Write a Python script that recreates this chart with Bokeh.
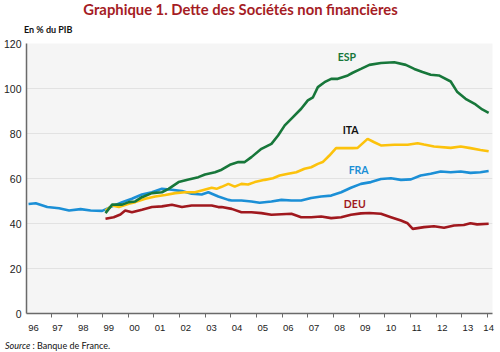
from bokeh.plotting import figure
from bokeh.models import Range1d, FixedTicker, Label, Div
from bokeh.layouts import column
from bokeh.embed import file_html
from bokeh.resources import INLINE

# ---- data ----
fra_t = [1996.11, 1996.39, 1996.84, 1997.30, 1997.69, 1998.14, 1998.53, 1998.98, 1999.37, 1999.76,
         2000.14, 2000.53, 2000.92, 2001.31, 2001.70, 2002.09, 2002.47, 2002.86, 2003.12, 2003.51,
         2003.90, 2004.03, 2004.41, 2004.80, 2005.12, 2005.58, 2005.97, 2006.36, 2006.74, 2007.13,
         2007.52, 2007.91, 2008.30, 2008.68, 2009.07, 2009.46, 2009.85, 2010.24, 2010.63, 2011.02,
         2011.40, 2011.79, 2012.18, 2012.57, 2012.96, 2013.34, 2013.73, 2014.05]
fra_v = [48.7, 49.0, 47.3, 46.8, 45.8, 46.4, 45.8, 45.6, 47.6, 49.5,
         51.0, 52.9, 53.9, 55.4, 55.0, 54.4, 53.2, 52.9, 53.9, 52.0,
         50.5, 50.2, 50.2, 49.8, 49.2, 49.8, 50.5, 50.2, 50.2, 51.3,
         52.0, 52.4, 53.9, 55.9, 57.6, 58.4, 59.8, 60.1, 59.4, 59.6,
         61.3, 62.1, 63.1, 62.8, 63.1, 62.5, 62.8, 63.3]

esp_t = [1999.11, 1999.37, 1999.76, 2000.02, 2000.27, 2000.53, 2000.92, 2001.31, 2001.57, 2001.96,
         2002.35, 2002.73, 2002.99, 2003.38, 2003.64, 2003.96, 2004.29, 2004.54, 2004.80, 2005.19,
         2005.58, 2005.84, 2006.10, 2006.42, 2006.74, 2007.00, 2007.20, 2007.39, 2007.65, 2007.91,
         2008.17, 2008.56, 2008.75, 2009.07, 2009.40, 2009.85, 2010.37, 2010.82, 2011.15, 2011.47,
         2011.79, 2012.11, 2012.57, 2012.83, 2013.15, 2013.54, 2013.80, 2014.05]
esp_v = [44.6, 48.4, 48.4, 49.5, 49.8, 51.7, 53.5, 53.9, 55.4, 58.4,
         59.6, 60.6, 61.8, 62.8, 63.9, 66.1, 67.3, 67.3, 69.5, 73.2,
         75.4, 79.1, 83.6, 87.3, 91.0, 94.7, 96.1, 100.6, 102.8, 104.3,
         104.3, 105.8, 107.0, 108.7, 110.5, 111.3, 111.7, 110.5, 108.7, 107.3,
         106.1, 105.8, 103.1, 98.4, 95.4, 92.9, 90.7, 89.2]

ita_t = [1999.11, 1999.37, 1999.63, 2000.02, 2000.27, 2000.66, 2001.05, 2001.44, 2001.83, 2002.21,
         2002.60, 2002.86, 2003.25, 2003.44, 2003.64, 2003.90, 2004.15, 2004.41, 2004.67, 2004.93,
         2005.32, 2005.64, 2005.90, 2006.23, 2006.55, 2006.87, 2007.13, 2007.39, 2007.58, 2007.84,
         2008.10, 2008.42, 2008.75, 2008.94, 2009.33, 2009.59, 2009.85, 2010.37, 2010.89, 2011.28,
         2011.53, 2011.92, 2012.57, 2012.96, 2013.34, 2013.73, 2014.05]
ita_v = [45.8, 48.0, 47.3, 48.8, 49.5, 51.0, 52.0, 52.7, 53.5, 53.9,
         53.9, 54.7, 55.9, 55.4, 56.3, 57.6, 56.4, 57.6, 57.3, 58.4,
         59.4, 60.1, 61.3, 62.1, 62.8, 64.3, 65.0, 66.5, 67.3, 70.2,
         73.5, 73.5, 73.5, 73.6, 77.6, 76.1, 74.7, 75.0, 75.0, 75.7,
         75.1, 74.2, 73.6, 74.2, 73.5, 72.7, 72.1]

deu_t = [1999.11, 1999.43, 1999.69, 1999.88, 2000.14, 2000.53, 2000.92, 2001.31, 2001.70, 2002.09,
         2002.47, 2002.86, 2003.25, 2003.51, 2003.64, 2004.03, 2004.41, 2004.80, 2005.19, 2005.58,
         2005.97, 2006.36, 2006.74, 2007.13, 2007.52, 2007.91, 2008.30, 2008.68, 2009.07, 2009.40,
         2009.85, 2010.24, 2010.63, 2010.89, 2011.09, 2011.53, 2011.92, 2012.31, 2012.70, 2013.08,
         2013.34, 2013.60, 2014.05]
deu_v = [42.1, 42.8, 44.0, 45.8, 45.0, 46.1, 47.3, 47.6, 48.3, 47.3,
         48.0, 48.0, 48.0, 47.3, 47.3, 46.5, 45.0, 45.0, 44.6, 43.9,
         44.1, 44.3, 42.8, 42.8, 43.1, 42.4, 42.8, 43.9, 44.5, 44.7,
         44.3, 42.8, 41.3, 40.1, 37.6, 38.4, 38.8, 38.1, 39.1, 39.3,
         40.1, 39.6, 39.9]

year_ticks = list(range(1997, 2015))
label_pos = [1996.3] + [y + 0.24 for y in range(1997, 2014)] + [2014.05]
label_txt = ["96", "97", "98", "99", "00", "01", "02", "03", "04", "05", "06", "07",
             "08", "09", "10", "11", "12", "13", "14"]
y_ticks = [0, 20, 40, 60, 80, 100, 120]
grid_ticks = [20, 40, 60, 80, 100]

series_names = ["ESP", "ITA", "FRA", "DEU"]
series_label_x = [2008.52, 2008.67, 2008.98, 2008.83]
series_label_y = [113.8, 81.5, 63.7, 48.6]

title_text = "Graphique 1. Dette des Sociétés non financières"
unit_text = "En % du PIB"
source_label = "Source"
source_text = " : Banque de France."

C_ESP = "#17773a"
C_ITA = "#fcc20c"
C_FRA = "#1b8fd6"
C_DEU = "#a0181e"

header = Div(
    text=(
        '<div style="position:relative;width:500px;height:36px;font-family:Lato;">'
        '<span style="position:absolute;left:0;width:481px;top:0px;text-align:center;'
        'font-size:14.8px;line-height:normal;font-weight:bold;color:#a51c24;white-space:nowrap;">'
        + title_text + '</span>'
        '<span style="position:absolute;left:24px;top:25px;font-size:9px;line-height:9px;'
        'font-weight:bold;color:#111;white-space:nowrap;">' + unit_text + '</span>'
        '</div>'
    ),
    width=500, height=36, margin=0,
)

footer = Div(
    text=(
        '<div style="position:relative;width:500px;height:15px;font-family:Lato;">'
        '<span style="position:absolute;left:5px;top:4px;font-size:9px;line-height:9px;'
        'color:#111;white-space:nowrap;"><i>' + source_label + '</i>' + source_text + '</span>'
        '</div>'
    ),
    width=500, height=15, margin=0,
)

p = figure(width=500, height=301, output_backend="svg", toolbar_location=None,
           x_range=Range1d(1996.03, 2014.2), y_range=Range1d(0, 120),
           min_border_left=24, min_border_right=8, min_border_top=7, min_border_bottom=24,
           margin=0)
p.outline_line_color = None
p.background_fill_color = "#f5f5f5"
p.border_fill_color = "white"

p.xgrid.visible = False
p.ygrid.ticker = FixedTicker(ticks=grid_ticks)
p.ygrid.grid_line_color = "#e2e2e2"
p.ygrid.grid_line_width = 1

ya = p.yaxis[0]
ya.ticker = FixedTicker(ticks=y_ticks)
ya.major_tick_out = 0
ya.major_tick_in = 0
ya.minor_tick_out = 0
ya.minor_tick_in = 0
ya.axis_line_color = "#6a6a6a"
ya.axis_line_width = 1.5
ya.major_label_standoff = 5
ya.major_label_text_font = "Liberation Sans"
ya.major_label_text_font_size = "10.5px"
ya.major_label_text_color = "#222222"

xa = p.xaxis[0]
xa.ticker = FixedTicker(ticks=label_pos, minor_ticks=year_ticks)
xa.major_label_overrides = {pos: t for pos, t in zip(label_pos, label_txt)}
xa.major_tick_out = 0
xa.major_tick_in = 0
xa.minor_tick_out = 4
xa.minor_tick_in = 0
xa.minor_tick_line_color = "#6a6a6a"
xa.axis_line_color = "#6a6a6a"
xa.axis_line_width = 1.5
xa.major_label_standoff = 7
xa.major_label_text_font = "Liberation Sans"
xa.major_label_text_font_size = "9.5px"
xa.major_label_text_color = "#222222"

lw = 2.6
p.line(fra_t, fra_v, line_color=C_FRA, line_width=lw)
p.line(deu_t, deu_v, line_color=C_DEU, line_width=lw)
p.line(ita_t, ita_v, line_color=C_ITA, line_width=lw)
p.line(esp_t, esp_v, line_color=C_ESP, line_width=lw)

for name, lx, ly, col in zip(series_names, series_label_x, series_label_y,
                             [C_ESP, "#111111", C_FRA, C_DEU]):
    p.add_layout(Label(x=lx, y=ly, text=name, text_color=col, text_font="Lato",
                       text_font_style="bold", text_font_size="10.5px",
                       text_align="center", text_baseline="middle"))

layout = column(header, p, footer, spacing=0, margin=0)
open("out.html", "w").write(file_html(layout, INLINE))
